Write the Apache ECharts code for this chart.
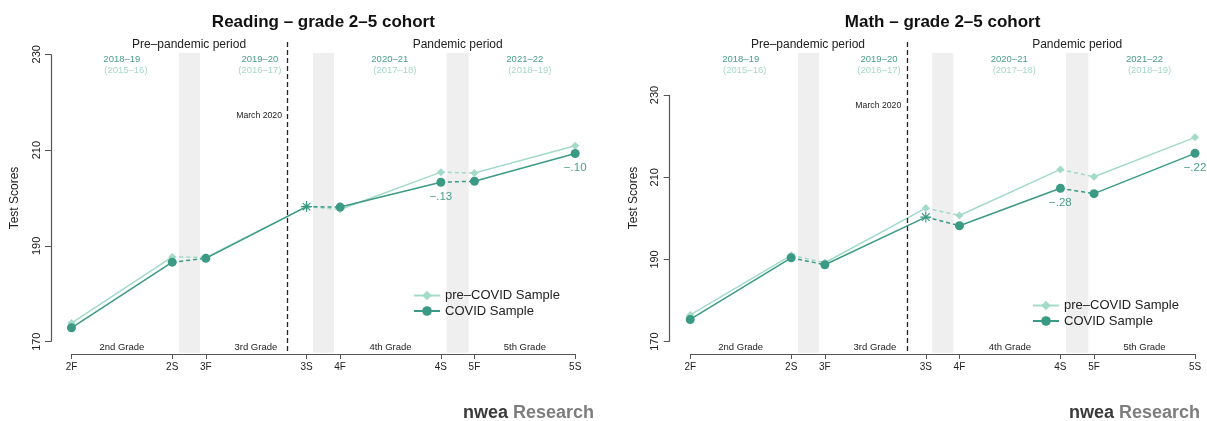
<!DOCTYPE html>
<html><head><meta charset="utf-8">
<script src="https://cdn.jsdelivr.net/npm/echarts@6/dist/echarts.min.js"></script>
<style>html,body{margin:0;padding:0;background:#fff}#c{width:1207px;height:421px}</style>
</head><body><div id="c"></div>
<script>
// ---- data ----
const timepoints = ['2F','2S','3F','3S','4F','4S','5F','5S'];
const timeX = [0,3,4,7,8,11,12,15];
const yTicks = [170,190,210,230];
const readingPre   = [173.9,187.7,187.6,198.2,197.6,205.4,205.2,210.9];
const readingCovid = [172.9,186.6,187.4,198.2,198.1,203.3,203.5,209.3];
const readingDiff  = [null,null,null,null,null,'−.13',null,'−.10'];
const mathPre      = [176.5,191.0,189.2,202.5,200.7,211.9,210.1,219.7];
const mathCovid    = [175.4,190.4,188.7,200.3,198.2,207.3,206.0,215.8];
const mathDiff     = [null,null,null,null,null,'−.28',null,'−.22'];
const titles = ['Reading – grade 2–5 cohort','Math – grade 2–5 cohort'];
const periods = ['Pre–pandemic period','Pandemic period'];
const grades = ['2nd Grade','3rd Grade','4th Grade','5th Grade'];
const schoolYears = ['2018–19','2019–20','2020–21','2021–22'];
const preYears = ['(2015–16)','(2016–17)','(2017–18)','(2018–19)'];
const seriesNames = ['pre–COVID Sample','COVID Sample'];

// ---- layout ----
const FONT = 'Liberation Sans, Arial, Helvetica, sans-serif';
const LIGHT = '#a3dac8', DARK = '#3b9a84';
const YEAR_C = '#4a9e8a', PAREN_C = '#a6d8c7';
const XMIN = -0.61, XMAX = 15;
const grids = [{left:51, top:42, width:524.2, height:312},{left:669.7, top:42, width:525.3, height:312}];
const yRanges = [[167.43,232.57],[167.0,242.89]];
const bandsX = [[3.2,3.83],[7.19,7.82],[11.17,11.83]];
const breakX = 6.44;
const marchY = [116,106];
const legendPos = [{left:408, top:284},{left:1027, top:294}];
const logoRight = [594,1200];

function px(g, x){ const G=grids[g]; return G.left + (x-XMIN)/(XMAX-XMIN)*G.width; }
function yv(g, py){ const G=grids[g], r=yRanges[g]; return r[1] - (py-G.top)/G.height*(r[1]-r[0]); }

const ASTER = 'path://M-1,-10L1,-10L1,10L-1,10Z M-10,-1L10,-1L10,1L-10,1Z M-6.3,-7.7L7.7,6.3L6.3,7.7L-7.7,-6.3Z M7.7,-6.3L-6.3,7.7L-7.7,6.3L6.3,-7.7Z';

const solidPairs = [[0,1],[2,3],[4,5],[6,7]];
const dashPairs = [[1,2],[3,4],[5,6]];
function seg(vals, pairs, itemFn){
  const d=[];
  pairs.forEach(([a,b],k)=>{
    d.push(itemFn ? itemFn(a) : [timeX[a],vals[a]]);
    d.push(itemFn ? itemFn(b) : [timeX[b],vals[b]]);
    if(k<pairs.length-1) d.push([timeX[b]+0.4,null]);
  });
  return d;
}

const series=[], xAxes=[], yAxes=[], graphics=[];
[[readingPre,readingCovid,readingDiff],[mathPre,mathCovid,mathDiff]].forEach(([pre,cov,diff],g)=>{
  const r=yRanges[g];
  xAxes.push({gridIndex:g,type:'value',min:XMIN,max:XMAX,
    axisLine:{show:false,onZero:false},splitLine:{show:false},
    axisTick:{show:true,customValues:timeX,length:5,lineStyle:{color:'#555',width:1}},
    axisLabel:{customValues:timeX,formatter:v=>{const i=timeX.indexOf(v);return i>=0?timepoints[i]:'';},fontSize:10,color:'#222',fontFamily:FONT,margin:8}});
  yAxes.push({gridIndex:g,type:'value',min:r[0],max:r[1],
    axisLine:{show:false,onZero:false},splitLine:{show:false},
    axisTick:{show:true,customValues:yTicks,length:6,lineStyle:{color:'#555',width:1}},
    axisLabel:{customValues:yTicks,rotate:90,fontSize:11,color:'#222',fontFamily:FONT,margin:9},
    name:'Test Scores',nameLocation:'middle',nameGap:30,nameTextStyle:{fontSize:12,color:'#222',fontFamily:FONT}});
  const yTop=yv(g,53), yBot=yv(g,352.7);
  // decorations
  series.push({type:'line',name:'_deco'+g,xAxisIndex:g,yAxisIndex:g,data:[],clip:false,silent:true,z:1,
    markArea:{silent:true,itemStyle:{color:'#efefef'},data:bandsX.map(b=>[{coord:[b[0],yTop]},{coord:[b[1],yBot]}])},
    markLine:{silent:true,symbol:['none','none'],label:{show:false},data:[
      [{coord:[XMIN,yTicks[0]],lineStyle:{color:'#555',width:1.2,type:'solid'}},{coord:[XMIN,yTicks[yTicks.length-1]]}],
      [{coord:[timeX[0],r[0]],lineStyle:{color:'#555',width:1.2,type:'solid'}},{coord:[timeX[timeX.length-1],r[0]]}],
      [{coord:[breakX,r[1]],lineStyle:{color:'#222',width:1.3,type:[5,3]}},{coord:[breakX,r[0]]}]
    ]}});
  // pre-COVID
  series.push({type:'line',name:seriesNames[0],xAxisIndex:g,yAxisIndex:g,z:3,clip:false,
    data:seg(pre,solidPairs),symbol:'diamond',symbolSize:8,connectNulls:false,
    lineStyle:{color:LIGHT,width:1.5},itemStyle:{color:LIGHT}});
  series.push({type:'line',name:'_preDash'+g,xAxisIndex:g,yAxisIndex:g,z:2,clip:false,
    data:seg(pre,dashPairs),showSymbol:false,symbol:'none',connectNulls:false,
    lineStyle:{color:LIGHT,width:1.5,type:[4,3]}});
  // COVID
  series.push({type:'line',name:seriesNames[1],xAxisIndex:g,yAxisIndex:g,z:5,clip:false,
    data:seg(cov,solidPairs,i=>{
      const it={value:[timeX[i],cov[i]]};
      if(i===3){it.symbol=ASTER;it.symbolSize=11;}
      if(diff[i]) it.label={show:true,position:'bottom',distance:4,formatter:diff[i],color:YEAR_C,fontSize:11.5,fontFamily:FONT};
      return it;}),
    symbol:'circle',symbolSize:9,connectNulls:false,
    lineStyle:{color:DARK,width:1.5},itemStyle:{color:DARK}});
  series.push({type:'line',name:'_covDash'+g,xAxisIndex:g,yAxisIndex:g,z:4,clip:false,
    data:seg(cov,dashPairs),showSymbol:false,symbol:'none',connectNulls:false,
    lineStyle:{color:DARK,width:1.5,type:[4,3]}});

  // annotation texts
  const T=(x,y,text,size,color,align,weight)=>graphics.push({type:'text',x:x,y:y,silent:true,
    style:{text:text,fill:color,font:(weight||'normal')+' '+size+'px '+FONT,textAlign:align||'center',textVerticalAlign:'middle'}});
  T(px(g,7.5),22,titles[g],17,'#111','center','bold');
  T(px(g,3.5),45,periods[0],12,'#222');
  T(px(g,11.5),45,periods[1],12,'#222');
  [1.5,5.61,9.48,13.5].forEach((x,i)=>T(px(g,x),59.3,schoolYears[i],9.5,YEAR_C));
  [1.62,5.61,9.63,13.65].forEach((x,i)=>T(px(g,x),70.7,preYears[i],9.5,PAREN_C));
  T(px(g,6.27),marchY[g],'March 2020',8.7,'#222','right');
  [1.5,5.49,9.5,13.5].forEach((x,i)=>T(px(g,x),347,grades[i],9.5,'#222'));
  graphics.push({type:'text',x:logoRight[g],y:413,silent:true,style:{
    text:'{a|nwea}{b| Research}',textAlign:'right',textVerticalAlign:'middle',
    rich:{a:{font:'900 18px '+FONT,fill:'#3a3a3a'},b:{font:'bold 18px '+FONT,fill:'#7d7d7d'}}}});
});

const chart = echarts.init(document.getElementById('c'),null,{renderer:'canvas'});
chart.setOption({
  animation:false,
  grid:grids.map(G=>({left:G.left,top:G.top,width:G.width,height:G.height,containLabel:false})),
  xAxis:xAxes, yAxis:yAxes, series:series,
  legend:legendPos.map(p=>({left:p.left,top:p.top,orient:'vertical',itemWidth:26,itemHeight:12,itemGap:2.5,
    selectedMode:false,data:seriesNames,textStyle:{fontSize:13,color:'#222',fontFamily:FONT}})),
  graphic:graphics
});
</script></body></html>
